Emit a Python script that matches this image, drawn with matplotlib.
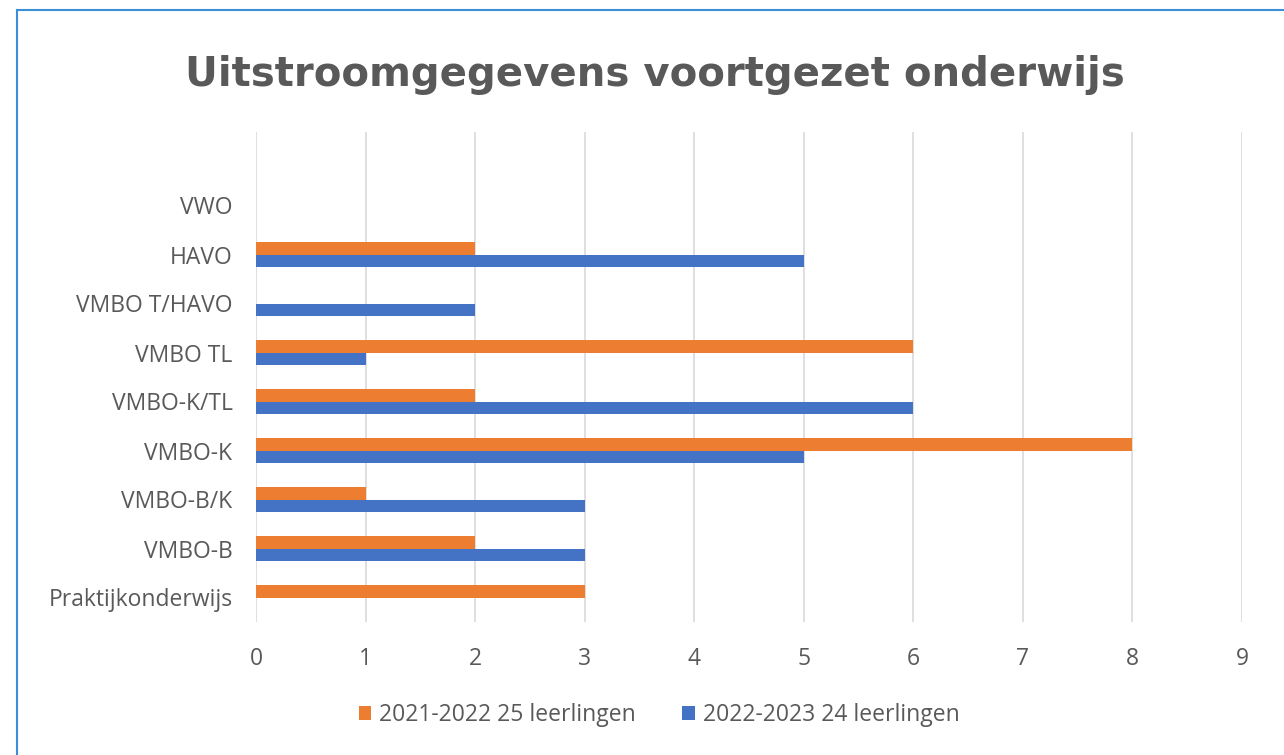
import matplotlib
matplotlib.use("Agg")
import matplotlib.pyplot as plt
from matplotlib.lines import Line2D
import numpy as np

categories = ["Praktijkonderwijs", "VMBO-B", "VMBO-B/K", "VMBO-K", "VMBO-K/TL",
              "VMBO TL", "VMBO T/HAVO", "HAVO", "VWO"]
series_2122 = [3, 2, 1, 8, 2, 6, 0, 2, 0]
series_2223 = [0, 3, 3, 5, 6, 1, 2, 5, 0]
label_2122 = "2021-2022 25 leerlingen"
label_2223 = "2022-2023 24 leerlingen"
title = "Uitstroomgegevens voortgezet onderwijs"
xticks = list(range(0, 10))

ORANGE = "#ED7D31"
BLUE = "#4472C4"
TXT = "#595959"
GRID = "#D9D9D9"

fig = plt.figure(figsize=(12.84, 7.55), dpi=100)
ax = fig.add_axes([256/1284, 1-622/755, (1242-256)/1284, (622-132)/755])

y = np.arange(len(categories))
h = 0.25
ax.barh(y + h/2, series_2122, height=h, color=ORANGE, label=label_2122, zorder=3)
ax.barh(y - h/2, series_2223, height=h, color=BLUE, label=label_2223, zorder=3)

ax.set_xlim(0, 9)
ax.set_ylim(-0.5, len(categories) + 0.5)
ax.set_xticks(xticks)
ax.set_yticks(y)
ax.set_yticklabels(categories)
ax.xaxis.grid(True, color=GRID, linewidth=1.2, zorder=0)
ax.yaxis.grid(False)
for s in ax.spines.values():
    s.set_visible(False)
ax.tick_params(axis="both", length=0, colors=TXT, labelsize=16.5)
ax.tick_params(axis="x", pad=18)
ax.tick_params(axis="y", pad=17)
for lab in ax.get_xticklabels() + ax.get_yticklabels():
    lab.set_fontfamily("Open Sans")

fig.text(655/1284, 1-75/755, title, ha="center", va="center",
         fontsize=29, fontweight="bold", color=TXT, family="DejaVu Sans")

leg = fig.legend(loc="center", bbox_to_anchor=(659/1284, 1-715/755), ncol=2,
                 frameon=False, prop={"family": "Open Sans", "size": 16.5},
                 handlelength=0.55, handleheight=0.55, handletextpad=0.35,
                 columnspacing=2.0)
for t in leg.get_texts():
    t.set_color(TXT)

# outer border (left and top visible)
fig.add_artist(Line2D([17/1284, 17/1284], [0, 1-10/755], color="#3A8EDA",
                      linewidth=1.5, transform=fig.transFigure))
fig.add_artist(Line2D([17/1284, 1], [1-10/755, 1-10/755], color="#3A8EDA",
                      linewidth=1.5, transform=fig.transFigure))

fig.savefig("out.png", dpi=100)
